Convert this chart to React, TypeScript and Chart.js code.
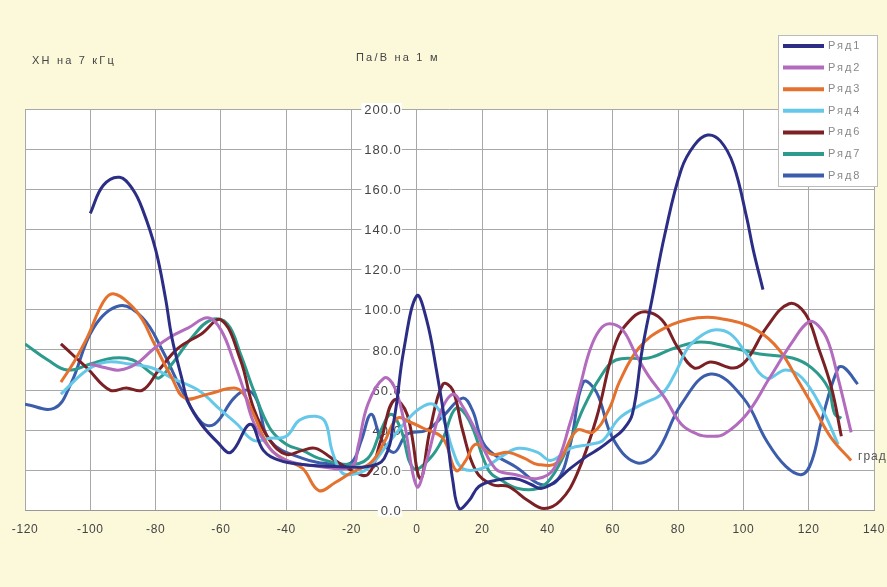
import React, { useEffect, useRef } from 'react';
import { Chart, registerables } from 'chart.js';

Chart.register(...registerables);

const seriesNames = ['Ряд1', 'Ряд2', 'Ряд3', 'Ряд4', 'Ряд6', 'Ряд7', 'Ряд8'];
const seriesColors = ['#2C2E86', '#B36BBE', '#E5712F', '#66C8E8', '#7B2024', '#2C9A8C', '#3B5DAB'];

const r1X = [-100, -96, -91, -87, -84, -80, -77, -75, -72, -70, -66, -61, -57, -51, -47, -42, -35, -25, -15, -10, -7, -4, 0, 3, 6, 9, 11, 13, 16, 19, 24, 30, 35, 38, 42, 47, 52, 56, 60, 63, 66, 69, 72, 76, 81, 85, 89, 93, 97, 101, 103, 106];
const r1Y = [148, 162, 166, 160, 150, 130, 106, 86, 66, 54, 43, 34, 29, 43, 30, 25, 23, 22, 22, 26, 45, 80, 107, 95, 70, 40, 15, 1, 5, 12, 15, 16, 13, 11, 14, 21, 27, 31, 36, 40, 48, 80, 105, 138, 170, 182, 187, 184, 172, 146, 130, 110];

const r2X = [-100, -95, -91, -86, -81, -76, -70, -64, -60, -56, -53, -50, -45, -40, -30, -20, -18, -15, -10, -7, -4, 0, 3, 7, 11, 14, 18, 24, 30, 37, 42, 47, 50, 53, 56, 59, 63, 67, 71, 76, 81, 86, 90, 94, 101, 108, 115, 120, 123, 126, 129, 133];
const r2Y = [73, 71, 70, 73, 80, 86, 91, 96, 90, 74, 60, 44, 31, 25, 22, 22, 32, 53, 66, 62, 45, 12, 25, 48, 58, 52, 40, 21, 18, 16, 21, 44, 62, 80, 90, 93, 90, 78, 67, 56, 43, 38, 37, 38, 48, 66, 84, 94, 92, 84, 66, 39];

const r3X = [-109, -105, -101, -96, -93, -88, -84, -81, -75, -71, -64, -56, -53, -50, -45, -40, -35, -30, -25, -20, -14, -10, -6, -2, 2, 8, 12, 15, 18, 23, 28, 33, 37, 43, 49, 54, 59, 62, 68, 76, 86, 95, 104, 111, 117, 122, 127, 133];
const r3Y = [64, 74, 86, 104, 108, 103, 95, 85, 66, 56, 58, 61, 58, 48, 31, 25, 21, 10, 14, 19, 24, 34, 46, 44, 41, 36, 20, 25, 33, 28, 29, 26, 23, 24, 40, 39, 51, 64, 81, 91, 96, 95, 90, 80, 64, 50, 36, 25];

const r4X = [-109, -101, -95, -88, -81, -75, -67, -60, -55, -50, -45, -40, -36, -31, -28, -26, -23, -20, -15, -9, -3, 1, 5, 8, 11, 14, 20, 26, 31, 37, 41, 47, 53, 57, 62, 69, 75, 79, 83, 87, 91, 96, 101, 107, 113, 118, 124, 129];
const r4Y = [58, 70, 74, 73, 71, 66, 60, 50, 43, 35, 36, 37, 45, 47, 44, 30, 19, 18, 21, 33, 45, 51, 53, 46, 30, 21, 21, 27, 31, 29, 25, 31, 33, 35, 46, 53, 58, 68, 81, 87, 90, 88, 78, 66, 70, 66, 51, 33];

const r6X = [-109, -105, -101, -94, -89, -84, -79, -73, -66, -60, -54, -50, -45, -40, -35, -31, -26, -20, -15, -11, -7, -3, 1, 4, 8, 11, 14, 18, 23, 28, 34, 39, 44, 49, 55, 61, 66, 70, 75, 80, 85, 90, 97, 101, 107, 114, 119, 123, 127, 130];
const r6Y = [83, 77, 71, 60, 61, 60, 70, 81, 88, 95, 75, 51, 35, 28, 30, 31, 26, 20, 18, 35, 55, 48, 16, 40, 63, 60, 40, 20, 13, 12, 5, 1, 5, 18, 46, 84, 96, 99, 95, 81, 71, 74, 71, 75, 91, 103, 98, 81, 61, 37];

const r7X = [-120, -113, -107, -100, -93, -87, -81, -79, -75, -69, -63, -58, -54, -50, -45, -40, -35, -30, -21, -15, -11, -8, -5, -1, 4, 8, 12, 16, 22, 26, 31, 37, 41, 46, 51, 56, 61, 71, 79, 87, 97, 105, 115, 121, 126, 128, 130];
const r7Y = [83, 75, 70, 73, 76, 75, 68, 66, 73, 86, 95, 93, 78, 60, 41, 33, 30, 26, 23, 26, 40, 48, 41, 21, 26, 36, 51, 45, 20, 15, 11, 11, 16, 31, 51, 66, 75, 76, 81, 84, 81, 78, 76, 71, 61, 48, 46];

const r8X = [-120, -111, -106, -99, -91, -84, -78, -72, -66, -62, -56, -52, -49, -45, -35, -25, -20, -17, -14, -11, -7, -3, 3, 8, 14, 17, 21, 31, 38, 43, 47, 51, 55, 60, 67, 73, 81, 90, 100, 107, 113, 118, 121, 124, 129, 131, 135];
const r8Y = [53, 51, 63, 91, 102, 96, 80, 60, 44, 43, 56, 60, 55, 35, 26, 23, 24, 35, 48, 36, 29, 38, 40, 47, 56, 50, 32, 21, 13, 15, 33, 64, 59, 36, 24, 28, 53, 68, 56, 35, 22, 18, 25, 45, 71, 71, 63];

const seriesX = [r1X, r2X, r3X, r4X, r6X, r7X, r8X];
const seriesY = [r1Y, r2Y, r3Y, r4Y, r6Y, r7Y, r8Y];

const xMin = -120;
const xMax = 140;
const xStep = 20;
const yMin = 0;
const yMax = 200;
const yStep = 20;

const leftTitle = 'ХН на 7 кГц';
const yTitle = 'Па/В на 1 м';
const xTitle = 'град';

const FONT = "'Liberation Sans', Arial, sans-serif";

const decorPlugin = {
  id: 'decor',
  beforeDraw(chart: any) {
    const { ctx, chartArea, width, height } = chart;
    ctx.save();
    ctx.fillStyle = '#FCF8DA';
    ctx.fillRect(0, 0, width, height);
    ctx.fillStyle = '#FFFFFF';
    ctx.fillRect(chartArea.left, chartArea.top, chartArea.right - chartArea.left, chartArea.bottom - chartArea.top);
    ctx.restore();
    ctx.letterSpacing = '0.6px';
  },
  beforeDatasetsDraw(chart: any) {
    // y-axis tick labels, placed left of the x = 0 axis line
    const { ctx } = chart;
    const xs = chart.scales.x;
    const ys = chart.scales.y;
    const axisX = xs.getPixelForValue(0);
    ctx.save();
    ctx.font = `13px ${FONT}`;
    ctx.letterSpacing = '1px';
    ctx.textAlign = 'right';
    ctx.textBaseline = 'middle';
    ys.ticks.forEach((t: any) => {
      const py = ys.getPixelForValue(t.value);
      const label = Number(t.value).toFixed(1);
      const right = axisX - 16;
      const w = ctx.measureText(label).width;
      ctx.fillStyle = '#FFFFFF';
      ctx.fillRect(right - w - 2, py - 6, w + 3, 12);
      ctx.fillStyle = '#444';
      ctx.fillText(label, right + 1, py + 1);
    });
    ctx.restore();
  },
  afterDraw(chart: any) {
    const { ctx } = chart;
    ctx.save();
    ctx.fillStyle = '#444';
    ctx.font = `11px ${FONT}`;
    ctx.letterSpacing = '2.2px';
    ctx.textBaseline = 'middle';
    ctx.textAlign = 'left';
    ctx.fillText(leftTitle, 32, 61);
    ctx.fillText(yTitle, 356, 58);
    ctx.fillStyle = '#555';
    ctx.font = `12px ${FONT}`;
    ctx.letterSpacing = '1px';
    ctx.fillText(xTitle, 858, 457);

    // legend
    const bx = 778, by = 35, bw = 99, bh = 151;
    ctx.fillStyle = '#FFFFFF';
    ctx.fillRect(bx, by, bw, bh);
    ctx.strokeStyle = '#BBBBBB';
    ctx.lineWidth = 1;
    ctx.strokeRect(bx + 0.5, by + 0.5, bw, bh);
    const ds = chart.data.datasets;
    ds.forEach((d: any, i: number) => {
      const yy = 46 + i * 21.6;
      ctx.strokeStyle = d.borderColor;
      ctx.lineWidth = 4;
      ctx.beginPath();
      ctx.moveTo(783, yy);
      ctx.lineTo(824, yy);
      ctx.stroke();
      ctx.fillStyle = '#888';
      ctx.font = `11px ${FONT}`;
      ctx.letterSpacing = '2px';
      ctx.fillText(d.label, 828, yy);
    });
    ctx.restore();
    ctx.letterSpacing = '0px';
  },
};

export default function App() {
  const ref = useRef<HTMLCanvasElement>(null);
  useEffect(() => {
    document.body.style.margin = '0';
    const canvas = ref.current!;
    const datasets = seriesNames.map((name, i) => ({
      label: name,
      data: seriesX[i].map((x, j) => ({ x, y: seriesY[i][j] })),
      borderColor: seriesColors[i],
      backgroundColor: seriesColors[i],
      borderWidth: 3,
      pointRadius: 0,
      tension: 0.4,
      fill: false,
    }));
    const chart = new Chart(canvas, {
      type: 'line',
      data: { datasets },
      options: {
        animation: false,
        responsive: false,
        devicePixelRatio: 1,
        layout: { padding: { left: 25, right: 13, top: 109, bottom: 38 } },
        plugins: { legend: { display: false }, tooltip: { enabled: false } },
        scales: {
          x: {
            type: 'linear',
            min: xMin,
            max: xMax,
            ticks: { stepSize: xStep, color: '#444', font: { size: 12, family: FONT }, padding: 12 },
            grid: { color: '#A8A8A8', lineWidth: 1, drawTicks: false },
            border: { color: '#999' },
            afterFit: (s: any) => {
              s.paddingLeft = 0;
              s.paddingRight = 0;
            },
          },
          y: {
            type: 'linear',
            position: { x: 0 } as any,
            min: yMin,
            max: yMax,
            ticks: { stepSize: yStep, display: false },
            grid: { color: '#A8A8A8', lineWidth: 1, drawTicks: false },
            border: { color: '#A8A8A8' },
          },
        },
      },
      plugins: [decorPlugin],
    });
    return () => chart.destroy();
  }, []);
  return <canvas ref={ref} width={887} height={587} style={{ display: 'block', width: 887, height: 587 }} />;
}
